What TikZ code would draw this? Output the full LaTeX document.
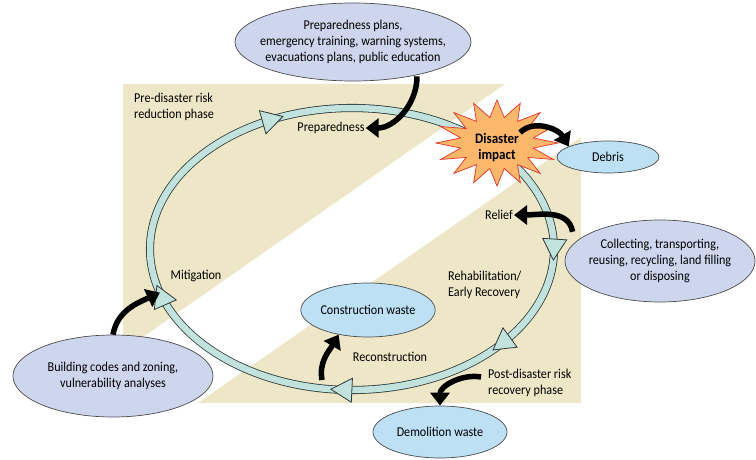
\documentclass[tikz,border=0pt]{standalone}
\usepackage{fontspec}
\setmainfont{Carlito}[FakeStretch=0.9]
\usetikzlibrary{shapes.geometric,arrows.meta,calc}

\definecolor{phasebg}{HTML}{EDE7C7}
\definecolor{ringfill}{HTML}{C2E3DD}
\definecolor{ringline}{HTML}{2E3838}
\definecolor{infofill}{HTML}{CED6EE}
\definecolor{wastefill}{HTML}{BDE0F5}
\definecolor{burstfill}{HTML}{FBB86A}
\definecolor{burstline}{HTML}{E8302A}

\tikzset{
  infobox/.style={ellipse, draw=black!70, fill=infofill, line width=0.7pt, align=center, inner xsep=-12pt, inner ysep=0pt},
  wastebox/.style={ellipse, draw=black!70, fill=wastefill, line width=0.7pt, inner sep=0pt},
  lbl/.style={inner sep=1pt, align=left},
  bigarrow/.style={black, line width=5.5pt, -{Triangle[length=13pt,width=19pt]}},
  ringhead/.style={fill=ringfill, draw=ringline, line width=0.8pt, line join=miter},
  burst/.style={fill=burstfill, draw=burstline, line width=0.7pt}
}

\begin{document}
\begin{tikzpicture}[x=1pt, y=1pt, font=\fontsize{13.5}{16}\selectfont]
  \useasboundingbox (0,0) rectangle (756,459);
  % phase backgrounds
  \fill[phasebg] (123,375) -- (505,375) -- (123,108) -- cycle;
  \fill[phasebg] (581,322) -- (581,56) -- (198,56) -- cycle;
  % the cycle
  \draw[ringline, line width=0.8pt, double=ringfill, double distance=6.5pt] (352,210) ellipse [x radius=202, y radius=141];
  \foreach \s in {110,355.5,314.3,264,195} {
    \coordinate (tip) at ({352+202*cos(\s)},{210+141*sin(\s)});
    \coordinate (pre) at ({352+202*cos(\s+4)},{210+141*sin(\s+4)});
    \coordinate (bas) at ($(tip)!21pt!(pre)$);
    \filldraw[ringhead] (tip) -- ($(bas)!12pt!90:(tip)$) -- ($(bas)!12pt!-90:(tip)$) -- cycle;
  }
  \coordinate (mitring) at ({352+202*cos(198)},{210+141*sin(198)});
  \coordinate (recfoot) at (322,79);
  % disaster burst
  \filldraw[burst] (558,316) \foreach \i in {1,...,31} {
    -- ({497+ifthenelse(mod(\i,2)==0,61,37)*cos(\i*11.25)},{316+ifthenelse(mod(\i,2)==0,43,26)*sin(\i*11.25)})
  } -- cycle;
  \node[font=\fontsize{14.5}{16}\selectfont\bfseries, align=center, inner sep=1pt] (impact) at (497,311) {Disaster\\impact};

  \node[infobox, minimum width=236pt, minimum height=78pt] (plans) at (353,417) {Preparedness plans,\\emergency training, warning systems,\\evacuations plans, public education};
  \node[infobox, minimum width=190pt, minimum height=82pt] (collect) at (660,198) {Collecting, transporting,\\reusing, recycling, land filling\\or disposing};
  \node[infobox, minimum width=200pt, minimum height=82pt] (building) at (113,83) {Building codes and zoning,\\vulnerability analyses};
  \node[wastebox, minimum width=102pt, minimum height=32pt] (debris) at (608,302) {Debris};
  \node[wastebox, minimum width=134pt, minimum height=54pt] (constr) at (368,149) {Construction waste};
  \node[wastebox, minimum width=134pt, minimum height=52pt] (demol) at (440,27) {Demolition waste};

  \node[lbl, anchor=west] (prephase) at (133,352) {Pre-disaster risk\\reduction phase};
  \node[lbl] (prepl) at (331,331) {Preparedness};
  \node[lbl] (relief) at (499,244) {Relief};
  \node[lbl, anchor=west] (rehab) at (447,174) {Rehabilitation/\\Early Recovery};
  \node[lbl] (mitig) at (196,183) {Mitigation};
  \node[lbl] (recon) at (390,102) {Reconstruction};
  \node[lbl, anchor=west] (postph) at (487,76) {Post-disaster risk\\recovery phase};

  \draw[bigarrow] ([shift={(64,5)}]plans.south) to[out=-90, in=0] (prepl.east);
  \draw[bigarrow] (impact.north east) to[out=45, in=120] (debris.165);
  \draw[bigarrow] ([xshift=-20pt]collect.north west) to[out=100, in=0] (relief.east);
  \draw[bigarrow] (building.north) to[out=80, in=205] (mitring);
  \draw[bigarrow] (recfoot) to[out=100, in=240] (constr.220);
  \draw[bigarrow] ([shift={(-6,6)}]postph.west) to[out=170, in=90] (demol.north);
\end{tikzpicture}
\end{document}
